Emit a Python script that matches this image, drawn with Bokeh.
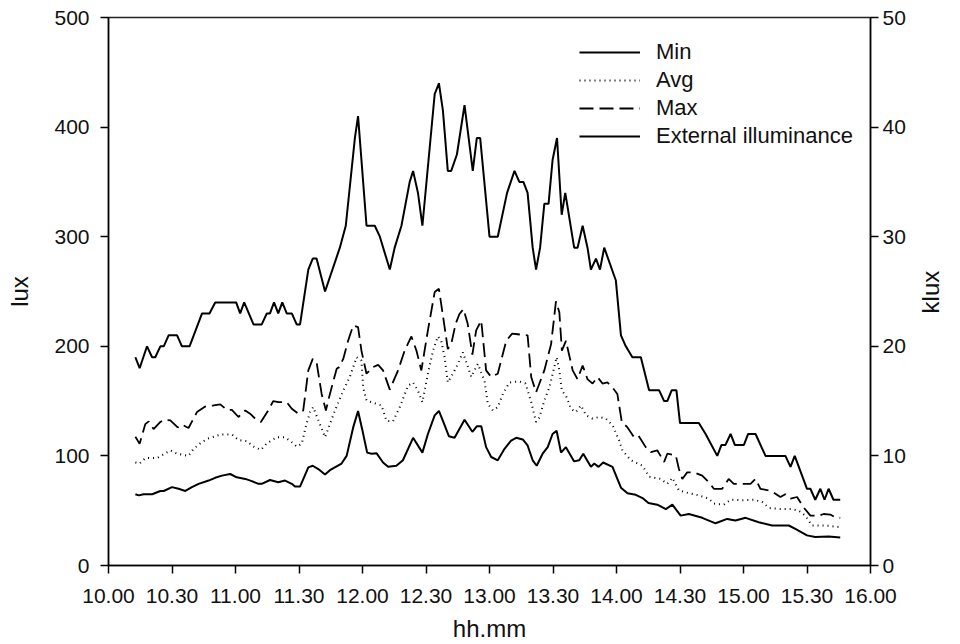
import math
from bokeh.plotting import figure
from bokeh.models import Range1d, LinearAxis, FixedTicker, Legend, LegendItem
from bokeh.embed import file_html
from bokeh.resources import INLINE

FONT = "Liberation Sans"

# ---- data (time = minutes after 10.00) ----
x_ticks = [0, 30, 60, 90, 120, 150, 180, 210, 240, 270, 300, 330, 360]
x_tick_labels = ["10.00", "10.30", "11.00", "11.30", "12.00", "12.30", "13.00",
                 "13.30", "14.00", "14.30", "15.00", "15.30", "16.00"]
lux_ticks = [0, 100, 200, 300, 400, 500]
klux_ticks = [0, 10, 20, 30, 40, 50]

min_t = [12.7, 14.3, 16.6, 20.6, 24.5, 26.1, 30.0, 33.1, 36.3, 39.4,
         42.6, 47.3, 50.4, 53.6, 57.5, 60.6, 64.6, 67.7, 70.8, 72.4,
         76.3, 80.2, 83.4, 86.6, 88.1, 90.5, 94.4, 96.5, 99.1, 102.3,
         104.6, 110.1, 112.5, 115.6, 117.9, 120.0, 122.2, 124.3, 126.6, 129.7,
         132.1, 136.0, 139.1, 143.9, 148.3, 150.9, 154.1, 156.1, 158.0, 160.8,
         163.5, 168.2, 171.9, 174.0, 176.1, 178.4, 180.8, 183.9, 187.1, 190.2,
         192.6, 195.7, 198.0, 200.4, 202.3, 205.1, 207.5, 209.8, 211.7, 213.8,
         216.1, 220.0, 222.4, 224.3, 227.9, 229.5, 231.5, 233.7, 238.1, 242.1,
         245.2, 249.1, 252.3, 255.1, 259.3, 263.3, 266.4, 270.3, 274.2, 280.5,
         286.8, 292.3, 296.2, 301.0, 307.2, 313.5, 321.4, 324.5, 330.0, 333.9,
         340.2, 345.7]
min_v = [65, 64, 65, 65, 68, 68, 71.5, 70, 68, 71.5,
         74.5, 77.5, 80, 82, 83.5, 80.5, 79, 77, 74.5, 74.5,
         78, 76, 77.5, 74.5, 72, 72, 89.5, 91, 88, 83,
         87, 93, 100, 126, 141, 123, 103, 102, 102.5, 94,
         90, 91, 96, 116.5, 103, 120, 137, 141, 132, 118,
         116.5, 133, 122, 127, 127, 108, 99, 96, 106.5, 114,
         116.5, 115, 109.5, 96, 91, 102, 108, 120, 123, 103,
         108, 95, 96, 102, 90, 93, 90, 94, 90, 71,
         66, 64.5, 61.5, 57, 55.5, 51.5, 55.5, 45.5, 47, 43.5,
         38.5, 42.5, 41, 43.5, 39.5, 36.5, 36.5, 33.5, 27.5, 26,
         26.5, 25.5]

avg_t = [12.7, 14.7, 17.4, 22.9, 29.2, 32.4, 37.8, 40.2, 43.4, 46.5,
         52.8, 58.3, 61.4, 65.4, 68.5, 72.0, 74.8, 79.5, 83.4, 86.6,
         88.9, 91.3, 93.3, 95.2, 96.7, 102.3, 107.0, 110.9, 114.0, 117.2,
         119.5, 120.3, 121.9, 126.6, 129.0, 131.3, 134.4, 137.6, 141.5, 143.9,
         146.2, 148.3, 150.9, 153.3, 155.6, 157.2, 158.8, 160.3, 162.7, 165.1,
         167.4, 169.3, 171.4, 172.9, 174.5, 176.1, 177.6, 179.2, 181.6, 183.9,
         186.3, 189.4, 194.1, 197.0, 199.7, 202.0, 203.6, 205.9, 208.3, 210.6,
         211.7, 213.0, 214.2, 216.1, 218.5, 220.8, 223.2, 225.6, 228.7, 231.8,
         235.0, 238.1, 241.3, 242.8, 246.8, 252.3, 255.4, 260.9, 264.0, 266.4,
         269.5, 274.2, 278.9, 283.6, 286.0, 290.7, 293.9, 299.4, 304.9, 308.8,
         312.0, 317.4, 322.9, 326.1, 329.2, 332.3, 338.6, 345.7]
avg_v = [94, 93, 98, 98, 105, 102, 100, 106.5, 111.5, 115.5,
         119.5, 119.5, 114.5, 113.5, 108.5, 105.5, 111.5, 117, 117, 112.5,
         108.5, 111, 127.5, 140, 144.5, 117, 141.5, 159.5, 172, 190,
         187, 162.5, 150.5, 147.5, 146, 132, 131.5, 144.5, 164, 167,
         159.5, 149, 175, 196, 209, 205, 190, 167, 175, 184,
         194.5, 184, 172, 178, 184, 176, 169, 147.5, 141.5, 144.5,
         156.5, 167, 168, 166, 149, 131, 135, 150.5, 162.5, 181,
         190, 178, 159.5, 155, 143, 140, 146, 137, 134, 135.5,
         134, 128, 114, 105, 96, 91, 81, 79, 74.5, 80,
         68.5, 66, 64, 61, 56.5, 55.5, 60, 59.5, 60, 58,
         52.5, 51.5, 51.5, 50, 45.5, 36.5, 36.5, 35]

max_t = [12.7, 14.7, 17.4, 19.0, 21.3, 24.5, 26.1, 29.2, 32.7, 34.7,
         37.8, 41.8, 45.7, 49.6, 52.8, 55.9, 58.3, 61.4, 64.6, 66.9,
         69.3, 72.0, 75.5, 77.8, 80.2, 84.2, 86.6, 89.7, 92.0, 94.4,
         96.5, 98.3, 100.7, 102.7, 104.6, 107.8, 109.0, 110.9, 113.2, 115.6,
         117.9, 119.5, 121.9, 125.0, 127.4, 129.7, 132.9, 136.8, 139.9, 143.1,
         145.5, 147.8, 150.9, 154.1, 156.1, 158.0, 160.3, 161.9, 164.0, 165.8,
         167.7, 169.7, 171.9, 173.7, 176.1, 178.4, 180.8, 183.9, 187.9, 190.7,
         193.3, 198.0, 199.7, 202.0, 205.9, 209.1, 211.4, 213.0, 214.2, 216.1,
         219.3, 221.6, 224.0, 226.3, 228.7, 231.0, 233.4, 235.7, 238.1, 240.4,
         242.5, 245.2, 248.3, 250.4, 253.8, 256.2, 259.3, 262.5, 264.0, 268.0,
         269.5, 271.1, 273.4, 276.6, 280.5, 283.6, 286.0, 289.9, 293.0, 295.4,
         299.4, 303.3, 305.7, 308.0, 312.0, 315.1, 317.4, 319.8, 322.2, 325.3,
         328.4, 331.6, 335.5, 337.9, 341.0, 343.4, 345.7]
max_v = [117.5, 111, 129, 131.5, 124.5, 131, 133, 132.5, 126, 128.5,
         125.5, 140, 145, 146, 147, 142, 142, 135.5, 141.5, 138.5,
         134, 131, 141.5, 150, 149, 149, 143, 138.5, 141.5, 178,
         188.5, 185.5, 156.5, 141.5, 156.5, 179.5, 181, 188.5, 205, 219,
         217.5, 196, 175, 181, 183, 178, 160.5, 178, 196, 209,
         196, 178, 214.5, 249.5, 252.5, 228, 197.5, 202, 220.5, 229.5,
         234, 220.5, 192.5, 214.5, 223.5, 178, 172, 175, 205, 211.5,
         211, 210, 172, 158, 178, 202, 241, 231, 196, 205,
         178, 170, 182.5, 170, 166, 172, 166, 167, 162.5, 156.5,
         131, 126, 117, 118.5, 108, 103.5, 105, 94.5, 102, 100.5,
         88, 79, 85, 85, 82, 76, 70, 70, 79, 74.5,
         74.5, 74.5, 79, 70, 68.5, 65.5, 62.5, 65, 61, 62.5,
         53, 45.5, 45.5, 47, 46.5, 44, 43.5]

ext_t = [12.7, 14.7, 18.2, 20.6, 22.1, 24.5, 26.1, 28.4, 32.4, 34.7,
         38.3, 44.2, 47.7, 50.4, 60.3, 62.2, 64.1, 68.5, 72.4, 74.8,
         76.3, 78.2, 80.2, 82.1, 84.2, 86.6, 88.9, 90.5, 94.4, 96.5,
         98.3, 102.3, 109.3, 112.1, 116.4, 117.9, 121.9, 125.8, 128.2, 132.9,
         135.2, 138.4, 142.3, 143.9, 146.2, 148.3, 154.1, 156.1, 158.0, 160.3,
         161.9, 164.6, 168.2, 172.1, 174.0, 175.6, 180.0, 183.9, 188.3, 191.8,
         194.1, 196.0, 198.0, 200.4, 202.0, 203.9, 205.9, 207.9, 209.8, 211.9,
         214.1, 215.8, 220.0, 221.6, 224.0, 226.3, 227.9, 230.3, 232.2, 234.2,
         239.7, 242.1, 244.4, 247.5, 251.5, 255.4, 260.1, 262.5, 264.0, 266.1,
         268.3, 270.0, 278.9, 282.1, 287.6, 289.6, 291.5, 293.9, 295.9, 300.2,
         302.2, 305.7, 310.4, 319.8, 322.2, 324.2, 330.0, 331.6, 333.9, 336.3,
         338.3, 340.2, 342.5, 345.7]
ext_v = [19, 18, 20, 19, 19, 20, 20, 21, 21, 20,
         20, 23, 23, 24, 24, 23, 24, 22, 22, 23,
         23, 24, 23, 24, 23, 23, 22, 22, 27, 28,
         28, 25, 29, 31, 39, 41, 31, 31, 30, 27,
         29, 31, 35, 36, 34, 31, 43, 44, 41.5, 36,
         36, 37.5, 42, 36, 39, 39, 30, 30, 34, 36,
         35, 35, 34, 29, 27, 29, 33, 33, 37, 39,
         32, 34, 29, 29, 31, 29, 27, 28, 27, 29,
         26, 21, 20, 19, 19, 16, 16, 15, 15, 16,
         16, 13, 13, 12, 10, 11, 11, 12, 11, 11,
         12, 12, 10, 10, 9, 10, 7, 7, 6, 7,
         6, 7, 6, 6]

series_names = ["Min", "Avg", "Max", "External illuminance"]
right_title = "klux"

# ---- figure ----
p = figure(width=960, height=644, output_backend="svg", toolbar_location=None,
           x_range=Range1d(0, 360), y_range=Range1d(0, 500),
           min_border_left=108, min_border_right=88, min_border_top=17,
           min_border_bottom=79)
p.extra_y_ranges = {"klux": Range1d(0, 50)}
p.grid.visible = False
p.outline_line_color = "#222222"
p.outline_line_width = 1.5
p.background_fill_color = "white"
p.border_fill_color = "white"

r_min = p.line(min_t, min_v, line_color="black", line_width=2)
r_avg = p.line(avg_t, avg_v, line_color="black", line_width=2, line_dash="1 4")
r_max = p.line(max_t, max_v, line_color="black", line_width=1.8, line_dash="14 6")
r_ext = p.line(ext_t, ext_v, line_color="black", line_width=2, y_range_name="klux")

right = LinearAxis(y_range_name="klux")
p.add_layout(right, "right")

xa = p.xaxis[0]
ya = p.yaxis[0]
for ax in (xa, ya, right):
    ax.axis_line_color = "black"
    ax.axis_line_width = 1.5
    ax.major_tick_line_color = "black"
    ax.major_tick_line_width = 1.5
    ax.major_tick_out = 8
    ax.major_tick_in = 0
    ax.minor_tick_line_color = None
    ax.major_label_text_font = FONT
    ax.major_label_text_font_size = "21px"
    ax.major_label_text_color = "#111111"
    ax.axis_label_text_font = FONT
    ax.axis_label_text_font_size = "24px"
    ax.axis_label_text_font_style = "normal"
    ax.axis_label_text_color = "#111111"

xa.ticker = FixedTicker(ticks=x_ticks)
xa.major_label_overrides = {t: lab for t, lab in zip(x_ticks, x_tick_labels)}
xa.major_label_standoff = 15
xa.axis_label = "hh.mm"
xa.axis_label_standoff = 9

ya.ticker = FixedTicker(ticks=lux_ticks)
ya.major_label_standoff = 11
ya.axis_label = "lux"
ya.axis_label_standoff = 18

right.ticker = FixedTicker(ticks=klux_ticks)
right.major_label_standoff = 4

# right-hand title, read bottom-to-top like the left one: drawn as the single
# (rotated) label of a bare axis that sits outside the klux axis
title_axis = LinearAxis(y_range_name="klux", ticker=FixedTicker(ticks=[23]),
                        major_label_overrides={23: right_title})
title_axis.axis_line_color = None
title_axis.major_tick_line_color = None
title_axis.major_tick_out = 0
title_axis.major_tick_in = 0
title_axis.minor_tick_line_color = None
title_axis.major_label_orientation = math.pi / 2
title_axis.major_label_standoff = 22
title_axis.major_label_text_font = FONT
title_axis.major_label_text_font_size = "24px"
title_axis.major_label_text_color = "#111111"
p.add_layout(title_axis, "right")

legend = Legend(items=[LegendItem(label=series_names[0], renderers=[r_min]),
                       LegendItem(label=series_names[1], renderers=[r_avg]),
                       LegendItem(label=series_names[2], renderers=[r_max]),
                       LegendItem(label=series_names[3], renderers=[r_ext])],
                location=(471, 416))
legend.margin = 0
legend.padding = 0
legend.spacing = 2
legend.glyph_width = 61
legend.glyph_height = 24
legend.label_height = 24
legend.label_standoff = 16
legend.label_text_font = FONT
legend.label_text_font_size = "22px"
legend.label_text_color = "#111111"
legend.border_line_color = None
legend.background_fill_alpha = 0
p.add_layout(legend)

open("out.html", "w").write(file_html(p, INLINE))
